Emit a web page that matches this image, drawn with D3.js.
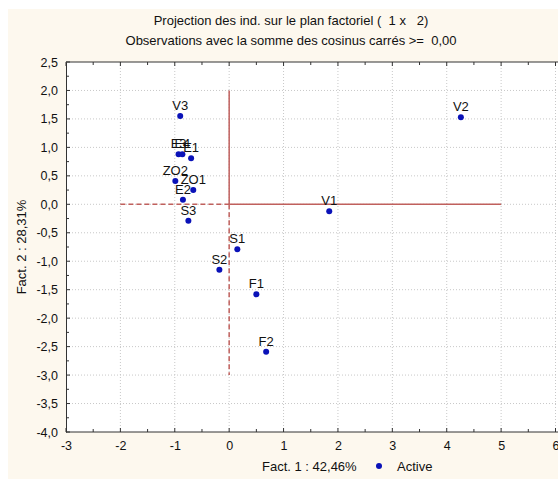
<!DOCTYPE html>
<html>
<head>
<meta charset="utf-8">
<script src="https://cdn.jsdelivr.net/npm/d3@7"></script>
<style>
  html, body { margin: 0; padding: 0; background: white; }
  svg { display: block; }
  .pre { white-space: pre; }
</style>
</head>
<body>
<script>
// individus projetés sur le plan factoriel 1 x 2
const labels = ["V3", "V2", "V1", "E3", "E4", "E1", "ZO2", "ZO1", "E2", "S3", "S1", "S2", "F1", "F2"]
const fact1 = [-0.90, 4.26, 1.84, -0.93, -0.86, -0.70, -0.99, -0.66, -0.85, -0.75, 0.15, -0.18, 0.50, 0.68]
const fact2 = [1.55, 1.53, -0.12, 0.88, 0.88, 0.81, 0.41, 0.25, 0.08, -0.29, -0.79, -1.15, -1.58, -2.59]
const xTicks = [-3, -2, -1, 0, 1, 2, 3, 4, 5, 6]
const yTicks = [2.5, 2, 1.5, 1, 0.5, 0, -0.5, -1, -1.5, -2, -2.5, -3, -3.5, -4]
const titleLines = ["Projection des ind. sur le plan factoriel (  1 x   2)",
                    "Observations avec la somme des cosinus carrés >=  0,00"]

const [width, height] = [558, 479]
const colors = {
    "bg": "#fdf8ee",
    "grid": "#c8c8c8",
    "axis": "#333",
    "cross": "#c0605d",
    "dot": "#0a12b8",
    "text": "#111"
}
const font = "Arial, 'Liberation Sans', sans-serif"

const x = d3.scaleLinear().domain([-3, 6]).range([66, 555.5])
const y = d3.scaleLinear().domain([-4, 2.5]).range([432, 62])

const svg = d3.select("body").append("svg")
    .attr("width", width)
    .attr("height", height)
    .style("font-family", font)

svg.append("rect").attr("x", 8).attr("y", 9).attr("width", width - 8).attr("height", height - 9)
    .attr("fill", colors.bg)
svg.append("rect").attr("x", x(-3)).attr("y", y(2.5))
    .attr("width", width - x(-3)).attr("height", y(-4) - y(2.5))
    .attr("fill", "white")

// grille pointillée
svg.append("g").selectAll("line").data(xTicks.slice(1)).join("line")
    .attr("x1", d => x(d)).attr("x2", d => x(d))
    .attr("y1", y(2.5)).attr("y2", y(-4))
    .attr("stroke", colors.grid).attr("stroke-dasharray", "1,2")
svg.append("g").selectAll("line").data(yTicks.slice(1, -1)).join("line")
    .attr("x1", x(-3)).attr("x2", width)
    .attr("y1", d => y(d)).attr("y2", d => y(d))
    .attr("stroke", colors.grid).attr("stroke-dasharray", "1,2")

// axes
const xAxis = d3.axisBottom(x).tickValues(xTicks).tickSize(0).tickPadding(9)
    .tickFormat(d => d3.format("d")(d).replace("−", "-"))
const gx = svg.append("g").attr("transform", `translate(0,${y(-4)})`).call(xAxis)
gx.select(".domain").attr("stroke", colors.axis).attr("d", `M${x(-3)},0H${width}`)
gx.selectAll("text").attr("font-size", 12.5).attr("font-family", font).attr("fill", colors.text)

const yAxis = d3.axisLeft(y).tickValues(yTicks).tickSize(0).tickPadding(8)
    .tickFormat(d => d3.format(".1f")(d).replace(".", ",").replace("−", "-"))
const gy = svg.append("g").attr("transform", `translate(${x(-3)},0)`).call(yAxis)
gy.select(".domain").attr("stroke", colors.axis)
gy.selectAll("text").attr("font-size", 12.5).attr("font-family", font).attr("fill", colors.text)

svg.append("line").attr("x1", x(-3)).attr("x2", width).attr("y1", y(2.5)).attr("y2", y(2.5))
    .attr("stroke", colors.axis)

// petites graduations internes
const xMinor = d3.range(-3, 6.01, 0.5)
const yMinor = d3.range(-4, 2.51, 0.25)
svg.append("g").selectAll("line").data(xMinor).join("line")
    .attr("x1", d => x(d)).attr("x2", d => x(d))
    .attr("y1", y(-4)).attr("y2", d => y(-4) - (Number.isInteger(d) ? 4 : 3))
    .attr("stroke", colors.axis)
svg.append("g").selectAll("line").data(xMinor).join("line")
    .attr("x1", d => x(d)).attr("x2", d => x(d))
    .attr("y1", y(2.5)).attr("y2", d => y(2.5) + (Number.isInteger(d) ? 4 : 3))
    .attr("stroke", colors.axis)
svg.append("g").selectAll("line").data(yMinor).join("line")
    .attr("x1", x(-3)).attr("x2", d => x(-3) + (d % 0.5 === 0 ? 4 : 3))
    .attr("y1", d => y(d)).attr("y2", d => y(d))
    .attr("stroke", colors.axis)

// croix de l'origine
const cross = svg.append("g").attr("stroke", colors.cross).attr("stroke-width", 1.5)
cross.append("line").attr("x1", x(0)).attr("x2", x(5)).attr("y1", y(0)).attr("y2", y(0))
cross.append("line").attr("x1", x(-2)).attr("x2", x(0)).attr("y1", y(0)).attr("y2", y(0))
    .attr("stroke-dasharray", "5,3")
cross.append("line").attr("x1", x(0)).attr("x2", x(0)).attr("y1", y(2)).attr("y2", y(0))
cross.append("line").attr("x1", x(0)).attr("x2", x(0)).attr("y1", y(0)).attr("y2", y(-3))
    .attr("stroke-dasharray", "5,3")

// points
const pts = labels.map((l, i) => ({ label: l, f1: fact1[i], f2: fact2[i] }))
const node = svg.append("g").selectAll("g").data(pts).join("g")
    .attr("transform", d => `translate(${x(d.f1)},${y(d.f2)})`)
node.append("circle").attr("r", 3).attr("fill", colors.dot)
node.append("text")
    .attr("y", -6)
    .attr("text-anchor", "middle")
    .attr("font-size", 13)
    .attr("fill", colors.text)
    .text(d => d.label)

// titres
svg.append("g").selectAll("text").data(titleLines).join("text")
    .attr("class", "pre")
    .attr("x", 291).attr("y", (d, i) => 25 + i * 20)
    .attr("text-anchor", "middle").attr("font-size", 13).attr("fill", colors.text)
    .text(d => d)

svg.append("text")
    .attr("transform", `translate(26,${(y(2.5) + y(-4)) / 2}) rotate(-90)`)
    .attr("text-anchor", "middle").attr("font-size", 13).attr("fill", colors.text)
    .text("Fact. 2 : 28,31%")

svg.append("text").attr("x", 262).attr("y", 471)
    .attr("font-size", 13).attr("fill", colors.text)
    .text("Fact. 1 : 42,46%")
svg.append("circle").attr("cx", 379).attr("cy", 466).attr("r", 3).attr("fill", colors.dot)
svg.append("text").attr("x", 397).attr("y", 471)
    .attr("font-size", 13).attr("fill", colors.text)
    .text("Active")
</script>
</body>
</html>
